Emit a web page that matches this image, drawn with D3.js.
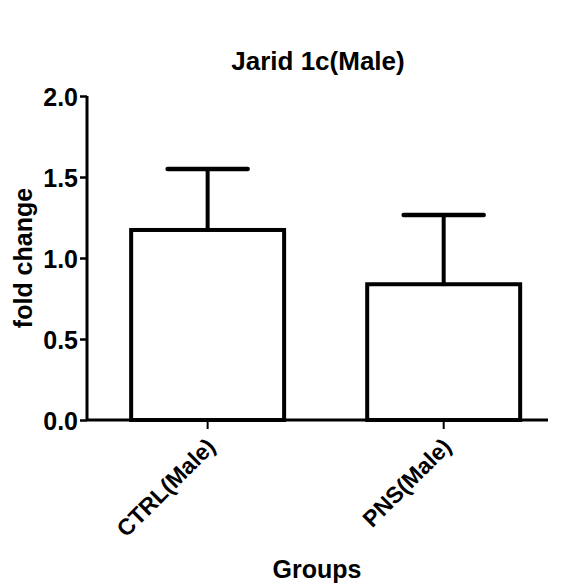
<!DOCTYPE html>
<html>
<head>
<meta charset="utf-8">
<script src="https://cdn.jsdelivr.net/npm/d3@7"></script>
<style>
  html, body { margin: 0; padding: 0; background: #fff; }
  svg text { font-family: Arial, "Liberation Sans", sans-serif; font-weight: bold; fill: #000; }
</style>
</head>
<body>
<svg id="chart" width="562" height="585"></svg>
<script>
// Group means and upper error (mean + SEM) for Jarid 1c expression
const groups = ["CTRL(Male)", "PNS(Male)"];
const means = [1.173, 0.838];
const errorTops = [1.549, 1.265];
const yTicks = [0.0, 0.5, 1.0, 1.5, 2.0];

const svg = d3.select("#chart");

const x = d3.scaleBand()
  .domain(groups)
  .range([87, 548])
  .paddingInner(0.335)
  .paddingOuter(0.144)
  .align(0.62);

const y = d3.scaleLinear().domain([0, 2]).range([420, 96]);

// Bars: white fill, heavy black outline
const barStroke = 4;
svg.append("g").selectAll("rect")
  .data(groups)
  .join("rect")
  .attr("x", d => x(d) + barStroke / 2)
  .attr("width", x.bandwidth() - barStroke)
  .attr("y", (d, i) => y(means[i]))
  .attr("height", (d, i) => y(0) - y(means[i]))
  .attr("fill", "#fff")
  .attr("stroke", "#000")
  .attr("stroke-width", barStroke);

// Upper error bars with caps
const err = svg.append("g").attr("stroke", "#000").attr("stroke-linecap", "round");
groups.forEach((g, i) => {
  const cx = x(g) + x.bandwidth() / 2;
  err.append("line")
    .attr("x1", cx).attr("x2", cx)
    .attr("y1", y(means[i])).attr("y2", y(errorTops[i]))
    .attr("stroke-width", 4);
  const capHalf = x.bandwidth() * 0.255;
  err.append("line")
    .attr("x1", cx - capHalf).attr("x2", cx + capHalf)
    .attr("y1", y(errorTops[i])).attr("y2", y(errorTops[i]))
    .attr("stroke-width", 4.5);
});

// Y axis
const yAxis = d3.axisLeft(y)
  .tickValues(yTicks)
  .tickFormat(d3.format(".1f"))
  .tickSize(7)
  .tickPadding(2);
const yg = svg.append("g").attr("transform", "translate(87,0)").call(yAxis);
yg.select(".domain").attr("d", `M0,${y(2)}V${y(0)}`).attr("stroke-width", 3);
yg.selectAll(".tick line").attr("stroke-width", 2.5);
yg.selectAll(".tick text").style("font-size", "25px").attr("dy", "0.36em");

// X axis
const xAxis = d3.axisBottom(x).tickSize(9).tickFormat("");
const xg = svg.append("g").attr("transform", `translate(0,${y(0)})`).call(xAxis);
xg.select(".domain").attr("d", "M87,0H548").attr("stroke-width", 3);
xg.selectAll(".tick line").attr("stroke-width", 2);

// Rotated category labels
svg.append("g").selectAll("text")
  .data(groups)
  .join("text")
  .attr("text-anchor", "end")
  .style("font-size", "23px")
  .attr("transform", d => `translate(${x(d) + x.bandwidth() / 2 + 9},${y(0) + 28}) rotate(-45)`)
  .text(d => d);

// Axis titles and chart title
svg.append("text")
  .attr("x", 317).attr("y", 578)
  .attr("text-anchor", "middle")
  .style("font-size", "25px")
  .text("Groups");

svg.append("text")
  .attr("transform", "translate(32,258) rotate(-90)")
  .attr("text-anchor", "middle")
  .style("font-size", "25px")
  .text("fold change");

svg.append("text")
  .attr("x", 318).attr("y", 70)
  .attr("text-anchor", "middle")
  .style("font-size", "26px")
  .text("Jarid 1c(Male)");
</script>
</body>
</html>
